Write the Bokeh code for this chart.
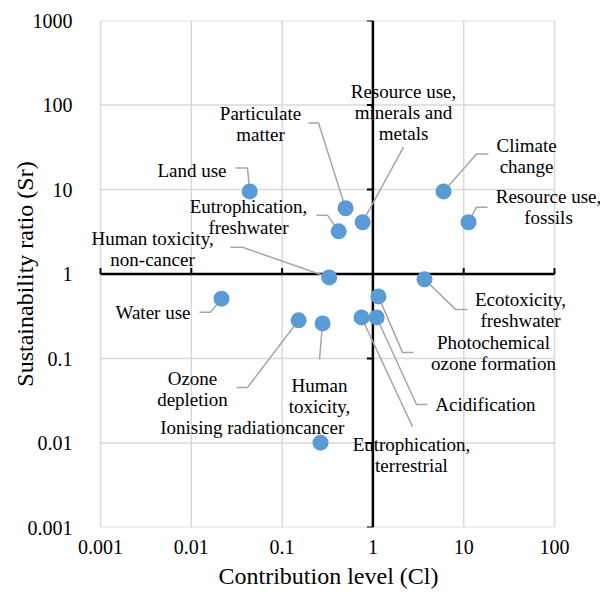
from bokeh.plotting import figure
from bokeh.models import FixedTicker, CustomJSTickFormatter, Title, Label
from bokeh.embed import file_html
from bokeh.resources import INLINE

# ---- data ----
categories = ["Land use", "Particulate matter", "Eutrophication, freshwater",
              "Resource use, minerals and metals", "Climate change",
              "Resource use, fossils", "Human toxicity, non-cancer", "Water use",
              "Ozone depletion", "Ionising radiation", "Human toxicity, cancer",
              "Eutrophication, terrestrial", "Acidification",
              "Photochemical ozone formation", "Ecotoxicity, freshwater"]
contribution = [0.044, 0.50, 0.42, 0.77, 6.0, 11.3, 0.33, 0.0215,
                0.152, 0.265, 0.279, 0.75, 1.10, 1.15, 3.70]
sustainability = [9.5, 6.0, 3.2, 4.1, 9.5, 4.1, 0.91, 0.51,
                  0.283, 0.0101, 0.26, 0.306, 0.306, 0.543, 0.865]
label_texts = ["Land use", "Particulate\nmatter", "Eutrophication,\nfreshwater",
               "Resource use,\nminerals and\nmetals", "Climate\nchange",
               "Resource use,\nfossils", "Human toxicity,\nnon-cancer", "Water use",
               "Ozone\ndepletion", "Ionising radiation", "Human\ntoxicity,\ncancer",
               "Eutrophication,\nterrestrial", "Acidification",
               "Photochemical\nozone formation", "Ecotoxicity,\nfreshwater"]
# label anchors (log10 units) and alignment
label_lx = [-1.612, -1.238, -1.370, 0.337, 1.692, 1.934, -2.427, -2.009,
            -1.987, -1.601, -0.588, 0.425, 1.240, 1.328, 1.626]
label_ly = [1.230, 1.775, 0.678, 1.917, 1.402, 0.791, 0.299, -0.454,
            -1.356, -1.818, -1.569, -2.144, -1.545, -0.940, -0.431]
label_align = ["right", "center", "center", "center", "center", "center", "center", "right",
               "center", "center", "center", "center", "center", "center", "center"]
# leader line elbows (log10 units), ending at the point
leaders_lx = [[-1.513, -1.381], [-0.709, -0.599], [-0.621, -0.500], [0.337], [1.273, 1.141],
              [1.262, 1.141], [-1.568, -1.436], [-1.910, -1.789], [-1.502, -1.381], [-0.590],
              [-0.588], [0.436], [0.601, 0.480], [0.447, 0.326], [1.042, 0.910]]
leaders_ly = [[1.253, 1.253], [1.787, 1.787], [0.696, 0.696], [1.502], [1.419, 1.419],
              [0.791, 0.791], [0.316, 0.316], [-0.454, -0.454], [-1.344, -1.344], [-1.925],
              [-1.012], [-1.806], [-1.545, -1.545], [-0.928, -0.928], [-0.419, -0.419]]

x_ticks = [0.001, 0.01, 0.1, 1, 10, 100]
y_ticks = [0.001, 0.01, 0.1, 1, 10, 100, 1000]

FONT = "'Liberation Serif'"

# layout: plot area (decades) plus extra room so the labels at the sides are not clipped
W, H = 600, 595
LEFT, TOP, BOTTOM = 90, 20, 68
DEC_PX = 90.8               # pixels per x decade
PAD_L, PAD_R = 10, 46       # extra frame room left of 0.001 and right of 100
LINE_PX = 21                # label line spacing
x_start = 10 ** (-3 - PAD_L / DEC_PX)
x_end = 10 ** (2 + PAD_R / DEC_PX)

p = figure(width=W, height=H, x_axis_type="log", y_axis_type="log",
           x_range=(x_start, x_end), y_range=(0.001, 1000),
           output_backend="svg", toolbar_location=None,
           y_axis_label="Sustainability ratio (Sr)")
p.min_border_left = LEFT
p.min_border_right = 0
p.min_border_top = TOP
p.min_border_bottom = BOTTOM
p.outline_line_color = None
p.background_fill_color = "white"
p.border_fill_color = "white"
p.grid.visible = False

for ax, ticks in ((p.xaxis[0], x_ticks), (p.yaxis[0], y_ticks)):
    ax.ticker = FixedTicker(ticks=ticks)
    ax.formatter = CustomJSTickFormatter(code="return tick.toString();")
    ax.axis_line_color = None
    ax.major_tick_line_color = None
    ax.minor_tick_line_color = None
    ax.major_tick_out = 0
    ax.major_tick_in = 0
    ax.minor_tick_out = 0
    ax.minor_tick_in = 0
    ax.major_label_text_font = FONT
    ax.major_label_text_font_size = "20px"
    ax.major_label_text_color = "#000000"
    ax.axis_label_text_font = FONT
    ax.axis_label_text_font_size = "24px"
    ax.axis_label_text_font_style = "normal"
    ax.axis_label_text_color = "#000000"
p.xaxis.major_label_standoff = 12
p.yaxis.major_label_standoff = 8 + PAD_L
p.yaxis.axis_label_standoff = -13

xt = Title(text="Contribution level (Cl)", align="left", offset=128, standoff=9,
           text_font=FONT, text_font_size="24px", text_font_style="normal",
           text_color="#000000")
p.add_layout(xt, "below")

# grid lines restricted to the decade box
gx0 = [x_ticks[0]] * len(y_ticks)
gx1 = [x_ticks[-1]] * len(y_ticks)
p.segment(x0=gx0, y0=y_ticks, x1=gx1, y1=y_ticks, line_color="#d9d9d9", line_width=1.5)
p.segment(x0=x_ticks, y0=[y_ticks[0]] * len(x_ticks), x1=x_ticks,
          y1=[y_ticks[-1]] * len(x_ticks), line_color="#d9d9d9", line_width=1.5)

# crossing axes at 1
p.segment(x0=[x_ticks[0]], y0=[1], x1=[x_ticks[-1]], y1=[1], line_color="black", line_width=2.5)
p.segment(x0=[1], y0=[y_ticks[0]], x1=[1], y1=[y_ticks[-1]], line_color="black", line_width=2.5)
TL_X = 10 ** -0.066
TL_Y = 10 ** 0.07
yt = [t for t in y_ticks if t != 1]
p.segment(x0=[TL_X] * len(yt), y0=yt, x1=[1] * len(yt), y1=yt, line_color="black", line_width=2)
xtk = [t for t in x_ticks if t != 1]
p.segment(x0=xtk, y0=[1] * len(xtk), x1=xtk, y1=[TL_Y] * len(xtk), line_color="black", line_width=2)

# leader lines
xs, ys = [], []
for i in range(len(categories)):
    xs.append([10 ** v for v in leaders_lx[i]] + [contribution[i]])
    ys.append([10 ** v for v in leaders_ly[i]] + [sustainability[i]])
p.multi_line(xs=xs, ys=ys, line_color="#a6a6a6", line_width=1.5)

# points
p.scatter(contribution, sustainability, size=16, fill_color="#5b9bd5", line_color=None)

# labels, one Label per text line so every line is aligned on its own
for i, txt in enumerate(label_texts):
    lines = txt.split("\n")
    n = len(lines)
    for k, line in enumerate(lines):
        p.add_layout(Label(x=10 ** label_lx[i], y=10 ** label_ly[i], text=line,
                           y_offset=((n - 1) / 2 - k) * LINE_PX,
                           text_align=label_align[i], text_baseline="middle",
                           text_font=FONT, text_font_size="19px", text_color="#000000"))

open("out.html", "w").write(file_html(p, INLINE))
